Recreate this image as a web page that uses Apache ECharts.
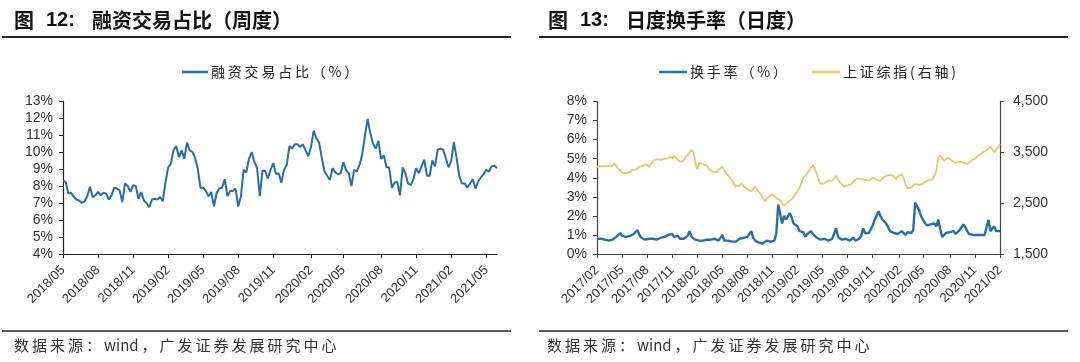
<!DOCTYPE html>
<html><head><meta charset="utf-8">
<script src="https://cdn.jsdelivr.net/npm/echarts@6/dist/echarts.min.js"></script>
<style>html,body{margin:0;padding:0;background:#fff}#c{width:1080px;height:362px}</style>
</head><body><div id="c"></div>
<script>
// ---------- data: left chart (weekly margin-trading share, %) ----------
const marginStart = '2018-05-04';
const marginShare = [8.3,8.25,7.55,7.6,7.35,7.2,7.15,7.0,7.1,7.4,7.95,7.35,7.45,7.65,7.45,7.6,7.55,7.2,7.45,7.9,7.85,7.75,7.05,8.15,8.0,7.65,8.05,8.0,7.25,7.65,7.15,7.0,6.75,7.2,7.25,7.2,7.35,7.1,8.2,9.1,9.3,10.1,10.35,9.7,10.1,9.6,10.55,10.1,10.0,9.65,9.0,7.9,
7.9,7.7,7.4,7.65,6.8,7.6,7.85,7.9,8.4,7.4,7.7,7.7,7.85,6.8,7.4,8.95,8.8,9.6,10.0,9.4,9.05,7.4,8.9,8.9,8.45,8.95,9.35,8.7,8.75,8.2,8.95,9.25,10.35,10.2,10.45,10.45,10.3,10.45,10.1,9.75,10.3,11.25,10.8,10.55,9.65,8.85,8.6,8.35,9.05,8.8,8.7,8.75,
9.4,8.95,8.75,8.0,8.95,8.85,9.25,9.85,10.95,11.95,11.1,10.5,10.2,10.65,9.6,9.8,9.1,9.1,7.9,8.2,8.25,7.45,9.1,8.75,8.15,8.05,8.4,9.05,8.75,9.15,9.55,8.6,8.6,9.5,9.15,10.15,10.2,10.15,9.65,9.1,9.45,10.6,9.65,8.6,8.15,8.15,7.9,8.15,8.4,7.85,8.25,8.5,
8.7,8.95,8.85,9.15,9.2,9.05];

// ---------- data: right chart (weekly turnover %, SSE Composite) ----------
const turnStart = '2017-02-03';
const turnoverRate = [0.8,0.75,0.8,0.85,0.75,0.8,0.7,0.8,0.75,0.85,0.9,0.95,
1.1,0.95,1.0,0.9,1.0,0.95,0.85,1.05,0.95,
1.25,1.0,0.85,0.8,0.75,0.85,0.8,0.75,0.8,0.9,0.75,0.8,0.85,0.8,0.9,0.85,
1.0,0.95,1.05,0.9,1.0,0.95,0.8,0.85,0.8,0.9,0.95,
1.2,0.9,0.8,0.75,0.8,0.7,0.75,0.7,0.8,0.75,0.7,0.75,0.7,0.8,0.75,0.7,0.85,
1.0,
0.7,0.65,0.7,0.6,0.65,0.7,0.65,0.75,0.8,0.7,0.85,0.8,0.9,0.85,
1.2,0.85,0.7,0.65,0.6,0.65,0.55,0.65,0.7,0.6,0.65,0.55,0.7,
1.1,2.6,2.5,1.6,2.0,1.8,1.75,2.15,1.9,1.6,1.5,1.45,1.2,1.3,1.15,0.9,1.05,
1.1,1.2,1.05,1.0,
0.85,0.8,0.75,0.7,0.8,0.75,0.7,0.75,0.8,0.9,
1.35,
0.9,0.8,0.75,0.7,0.8,0.75,0.7,0.75,0.85,0.7,0.75,0.8,0.95,
1.35,1.1,1.2,1.1,1.3,1.5,
1.8,2.0,2.25,2.0,1.8,1.7,1.6,1.4,
1.2,1.15,1.1,1.2,1.05,1.15,1.2,1.1,1.0,1.15,1.2,1.1,1.25,
2.7,2.5,2.3,2.0,1.8,1.65,1.5,1.45,1.55,1.5,1.6,1.45,1.8,
1.3,0.9,1.0,1.1,1.05,1.15,1.1,1.2,1.05,1.1,1.25,1.3,
1.55,1.4,1.2,1.05,1.0,1.0,1.0,1.0,1.0,1.0,1.0,1.0,1.05,
1.8,1.2,1.3,1.45,1.2,1.15,1.2];
const sseComposite = [3215,3210,3230,3250, 3225,3215,3240,3270,3230, 3285,3250,3180,3150, 3100,3080,3090,3110, 3105,3150,3125,3155,3190, 3215,3225,3240,3250, 3265,3210,3270,3330, 3365,3365,3355,3350,3350, 3375,3390,3380,3420, 3375,3430,3385,3350, 3320,
3300,3330,3410,3450,3500,3550,3510,3300,3160,3300,3320,3270,3290,3230,3170,3150,3120,3125,3110,3155,
3190,3220,3150,3090,3050,3000,2960,2880,2830,2800,2850,2895,2830,2800,2780,2760,2730,2780,2830,2820,
2720,2670,2600,2540,2590,2630,2650,2675,2650,2600,2570,2560,2500,2445,2480,2520,2540,2580,2630,2680,
2740,2800,2900,3000,
3040,3090,3136,3200,3250,3230,3080,2960,2880,2900,2890,2910,2940,2920,2945,2990,3040,2960,2910,2870,
2830,2810,2850,2880,2877,2930,2955,2990,2960,2975,2990,2960,2930,2942,2980,3006,2970,2960,2930,2942,
2990,3010,3039,3050,3060,3071,3030,2974,3020,3050,3071,2990,2877,2790,2780,2812,2850,2880,2877,2860,
2844,2880,2920,2942,2950,2960,2974,3030,3136,
3400,3440,3433,3333,3370,3400,3367,3340,3320,3290,3300,3320,3333,3300,3280,3267,3300,3333,3360,3380,
3400,3440,3467,3500,3520,3540,3567,3613,3560,3500,3533,3600,3667];

const quarterMonths = [2, 5, 8, 11];
const leftTitle = ['图', '12:', '融资交易占比（周度）'];
const rightTitle = ['图', '13:', '日度换手率（日度）'];
const sourceNote = ['数据来源：', 'wind', '，广发证券发展研究中心'];
const legendMargin = '融资交易占比（%）';
const legendTurn = '换手率（%）';
const legendSSE = '上证综指(右轴)';

// ---------- helpers ----------
const TS = '\u2009';
const spaced = s => s.split('').join(TS);
function weeklyDates(start, n) {
  const out = [];
  const d = new Date(start + 'T00:00:00Z');
  for (let i = 0; i < n; i++) {
    const t = new Date(d.getTime() + i * 7 * 86400000);
    out.push(t.toISOString().slice(0, 10));
  }
  return out;
}
function quarterIdx(cats) {
  const s = new Set();
  cats.forEach((c, i) => {
    const m = +c.slice(5, 7);
    const pm = i > 0 ? +cats[i - 1].slice(5, 7) : -1;
    if (quarterMonths.includes(m) && (m !== pm) && (i > 0 || +c.slice(8, 10) <= 7)) s.add(i);
  });
  return s;
}
const fmtYM = v => v.slice(0, 4) + '/' + v.slice(5, 7);

const leftCats = weeklyDates(marginStart, marginShare.length);
const rightCats = weeklyDates(turnStart, Math.max(turnoverRate.length, sseComposite.length));
const lq = quarterIdx(leftCats), rq = quarterIdx(rightCats);

const BLUE = '#266EAA', GOLD = '#E8C66E';
const numFont = '"Liberation Sans", Arial, sans-serif';
const cjk = '"Noto Sans CJK SC", sans-serif';
const axisTxt = { color: '#333', fontSize: 13, fontFamily: numFont };

const nameMargin = spaced(legendMargin), nameTurn = spaced(legendTurn), nameSSE = spaced(legendSSE);

const chart = echarts.init(document.getElementById('c'), null, { renderer: 'canvas' });

function txt(x, y, s, size, font, weight, fill) {
  return { type: 'text', x, y, style: { text: s, fontSize: size, fontWeight: weight, fontFamily: font, fill, verticalAlign: 'middle', textVerticalAlign: 'middle' } };
}
function hline(x1, x2, y, w) {
  return { type: 'line', shape: { x1, y1: y, x2, y2: y }, style: { stroke: '#222', lineWidth: w } };
}
function titleParts(x0, parts) {
  return [
    txt(x0, 20, parts[0], 20, cjk, 'bold', '#111'),
    txt(x0 + 32, 20, parts[1], 20, numFont, 'bold', '#111'),
    txt(x0 + 78, 20, parts[2], 20, cjk, 'bold', '#111')
  ];
}
function srcText(x) {
  return txt(x, 345, spaced(sourceNote[0]) + TS + sourceNote[1] + TS + spaced(sourceNote[2]), 15, cjk, 'normal', '#333');
}

chart.setOption({
  animation: false,
  backgroundColor: '#fff',
  graphic: [
    ...titleParts(14, leftTitle),
    ...titleParts(548, rightTitle),
    hline(2, 511, 37, 2), hline(539, 1068, 37, 2),
    hline(2, 511, 331, 1.5), hline(539, 1068, 331, 1.5),
    srcText(14), srcText(547)
  ],
  legend: [
    { left: 182, top: 65, padding: 0, icon: 'rect', itemWidth: 26, itemHeight: 2.5, itemGap: 30,
      textStyle: { fontSize: 14, fontFamily: cjk, color: '#222', padding: [0, 0, 0, -2] }, data: [nameMargin] },
    { left: 659, top: 65, padding: 0, icon: 'rect', itemWidth: 28, itemHeight: 2.5, itemGap: 25,
      textStyle: { fontSize: 14, fontFamily: cjk, color: '#222', padding: [0, 0, 0, -2] }, data: [nameTurn, nameSSE] }
  ],
  grid: [
    { left: 63, right: 583, top: 101, bottom: 108 },
    { left: 597, right: 80, top: 101.5, bottom: 108 }
  ],
  xAxis: [
    { type: 'category', gridIndex: 0, data: leftCats, boundaryGap: false,
      axisLine: { lineStyle: { color: '#222', width: 1.2 } },
      axisTick: { interval: i => lq.has(i), length: 4, lineStyle: { color: '#222' } },
      axisLabel: { interval: i => lq.has(i), rotate: 45, margin: 14, formatter: fmtYM, ...axisTxt },
      splitLine: { show: false } },
    { type: 'category', gridIndex: 1, data: rightCats, boundaryGap: false,
      axisLine: { lineStyle: { color: '#444', width: 1.2 } },
      axisTick: { interval: i => rq.has(i), length: 4, lineStyle: { color: '#444' } },
      axisLabel: { interval: i => rq.has(i), rotate: 45, margin: 14, formatter: fmtYM, ...axisTxt },
      splitLine: { show: false } }
  ],
  yAxis: [
    { type: 'value', gridIndex: 0, min: 4, max: 13, interval: 1,
      axisLine: { show: true, lineStyle: { color: '#222', width: 1.2 } },
      axisTick: { show: true, length: 4, lineStyle: { color: '#222' } },
      axisLabel: { formatter: '{value}%', margin: 10, ...axisTxt, fontSize: 14 },
      splitLine: { show: false } },
    { type: 'value', gridIndex: 1, min: 0, max: 8, interval: 1,
      axisLine: { show: true, lineStyle: { color: '#444', width: 1.2 } },
      axisTick: { show: true, length: 4, lineStyle: { color: '#444' } },
      axisLabel: { formatter: '{value}%', margin: 10, ...axisTxt, fontSize: 14 },
      splitLine: { show: false } },
    { type: 'value', gridIndex: 1, position: 'right', min: 1500, max: 4500, interval: 1000,
      axisLine: { show: true, lineStyle: { color: '#444', width: 1.2 } },
      axisTick: { show: true, length: 4, lineStyle: { color: '#444' } },
      axisLabel: { formatter: v => v.toLocaleString('en-US'), margin: 13, ...axisTxt, fontSize: 14 },
      splitLine: { show: false } }
  ],
  series: [
    { name: nameMargin, type: 'line', xAxisIndex: 0, yAxisIndex: 0, data: marginShare,
      showSymbol: false, symbol: 'none', color: BLUE, lineStyle: { color: BLUE, width: 2 } },
    { name: nameSSE, type: 'line', xAxisIndex: 1, yAxisIndex: 2, data: sseComposite,
      showSymbol: false, symbol: 'none', color: GOLD, lineStyle: { color: GOLD, width: 1.8 } },
    { name: nameTurn, type: 'line', xAxisIndex: 1, yAxisIndex: 1, data: turnoverRate,
      showSymbol: false, symbol: 'none', color: BLUE, lineStyle: { color: BLUE, width: 2.4 } }
  ]
});
</script></body></html>
